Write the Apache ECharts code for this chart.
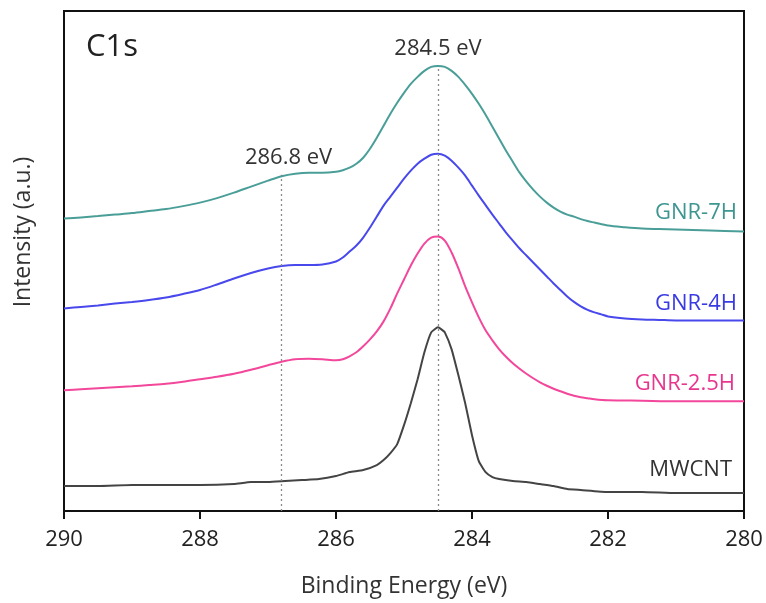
<!DOCTYPE html>
<html>
<head>
<meta charset="utf-8">
<script src="https://cdn.jsdelivr.net/npm/echarts@6/dist/echarts.min.js"></script>
<style>
html,body{margin:0;padding:0;background:#fff;}
#chart{width:766px;height:603px;}
</style>
</head>
<body>
<div id="chart"></div>
<script>
// Binding energies (eV) and intensities (a.u., offset-stacked as in the figure)
const e7H = [290,289.75,289.5,289.25,289,288.75,288.5,288.25,288,287.75,287.5,287.25,287,286.8,286.6,286.4,286.2,286.0,285.9,285.8,285.7,285.6,285.5,285.4,285.3,285.2,285.1,285.0,284.9,284.8,284.7,284.6,284.5,284.4,284.3,284.2,284.1,284.0,283.9,283.8,283.7,283.6,283.5,283.4,283.3,283.2,283.1,283.0,282.9,282.8,282.7,282.6,282.5,282.4,282.3,282.2,282.0,281.75,281.5,281.25,281.0,280.5,280];
const i7H = [293,294.2,295.5,297,298.5,300.5,302.5,305.5,309,313.5,319,325,331,335.5,338,339,339,340,341.5,344,348,354,363,374,386,398,409,419,428,435,441,445,446,445,441,435,427,418,408,397,385,373,361,350,339,330,322,315,309,304,300,297,295,292.5,290.5,289,286,284.3,283,282.5,282,281,280];

const e4H = [290,289.75,289.5,289.25,289,288.75,288.5,288.25,288,287.75,287.5,287.25,287,286.8,286.6,286.4,286.2,286.0,285.9,285.8,285.7,285.6,285.5,285.4,285.3,285.2,285.1,285.0,284.9,284.8,284.7,284.6,284.5,284.4,284.3,284.2,284.1,284.0,283.9,283.8,283.7,283.6,283.5,283.4,283.3,283.2,283.1,283.0,282.9,282.8,282.7,282.6,282.5,282.4,282.3,282.2,282.1,282.0,281.75,281.5,281.25,281,280.5,280];
const i4H = [203,204.5,206,207.8,209.5,211.5,214,217.5,221.5,227,233,238.5,243,245.5,246.5,246.5,247,250,254,260,266,274,284,295,306,315,324,333,341,348,353,357,358,356,351,344,336,326,316,306.5,297,288,279,271,263,256,249,242,235,228,221.5,215,209.5,205,201.5,199,197,195,193,192,191.5,191,191,191];

const e25H = [290,289.75,289.5,289.25,289,288.75,288.5,288.25,288,287.75,287.5,287.25,287,286.8,286.6,286.4,286.2,286.0,285.9,285.8,285.7,285.6,285.5,285.4,285.3,285.2,285.1,285.0,284.9,284.8,284.7,284.6,284.5,284.4,284.3,284.2,284.1,284.0,283.9,283.8,283.7,283.6,283.5,283.4,283.3,283.2,283.1,283.0,282.9,282.8,282.7,282.6,282.5,282.4,282.3,282.2,282.0,281.5,281,280];
const i25H = [121,122,123,124,125,126.2,127.5,129.5,132,134.5,137.5,141.5,146,149.5,152,152.5,152,151,152,155,159,165,172,180,190,203,218,232,246,258,268,274,275,271,259,243,225,209,194,181,171,162,154.5,148,142.5,137.5,133,129,125.5,122.5,120,117.5,115.5,114,113,112,111,110.5,110,110];

const eCNT = [290,289.5,289,288.5,288,287.5,287.25,287,286.75,286.5,286.25,286.0,285.8,285.6,285.4,285.3,285.2,285.1,285.0,284.9,284.8,284.7,284.6,284.5,284.45,284.4,284.3,284.2,284.1,284.0,283.9,283.8,283.7,283.6,283.4,283.2,283.0,282.8,282.6,282.4,282.0,281.5,281,280.5,280];
const iCNT = [25,25,26,26,26,27,29,29,30,31,32,35,39,41,46,51,58,67,86,108,132,159,179,184,182,179,162,136,108,76,50,39,34,32,30,29,27,25,22,21,19,19,18,18,18];

const xTicks = [290,288,286,284,282,280];
const peakMarks = [286.8, 284.5];
const peakTops = [337, 446];
const peakLabels = ['286.8 eV', '284.5 eV'];

const seriesNames = ['GNR-7H','GNR-4H','GNR-2.5H','MWCNT'];
const lineColors = ['#4a9e98','#4848ec','#f2479b','#444444'];
const textColors = ['#3d9690','#3a3ae4','#e8368f','#333333'];

const FONT = "'Open Sans', 'Noto Sans', sans-serif";

function zip(a,b){return a.map((v,i)=>[v,b[i]]);}
const allData = [zip(e7H,i7H), zip(e4H,i4H), zip(e25H,i25H), zip(eCNT,iCNT)];

const series = allData.map((d,k)=>({
  name: seriesNames[k],
  type: 'line',
  data: d,
  smooth: k===3 ? 0.15 : 0.3,
  symbol: 'none',
  lineStyle: {color: lineColors[k], width: 2},
  z: 3
}));

series[0].markLine = {
  silent: true,
  symbol: ['none','none'],
  lineStyle: {color: '#8a8a8a', type: [2,3], width: 1.3},
  label: {show: true, position: 'end', distance: 6, fontSize: 22, fontFamily: FONT, color: '#333'},
  data: peakMarks.map((e,i)=>[
    {coord: [e, 0]},
    {coord: [e, peakTops[i]], label: {formatter: peakLabels[i], offset: [i===0 ? 7 : 0, 0]}}
  ])
};

const chart = echarts.init(document.getElementById('chart'), null, {renderer: 'canvas'});
chart.setOption({
  animation: false,
  backgroundColor: '#fff',
  grid: {left: 64, right: 22, top: 11, bottom: 91, show: true, borderColor: '#111', borderWidth: 2, backgroundColor: 'transparent'},
  xAxis: {
    type: 'value', min: 280, max: 290, interval: 2, inverse: true,
    name: 'Binding Energy (eV)', nameLocation: 'middle', nameGap: 64,
    nameTextStyle: {fontSize: 23, fontFamily: FONT, color: '#333'},
    axisLine: {show: true, onZero: false, lineStyle: {color: '#111', width: 2}},
    axisTick: {show: true, inside: false, length: 8, lineStyle: {color: '#111', width: 2}},
    axisLabel: {fontSize: 22, fontFamily: FONT, color: '#222', margin: 18,
      customValues: xTicks},
    splitLine: {show: false}
  },
  yAxis: {
    type: 'value', min: 0, max: 501,
    axisLine: {show: false}, axisTick: {show: false}, axisLabel: {show: false}, splitLine: {show: false}
  },
  graphic: [
    {type: 'text', left: 86, top: 32, style: {text: 'C1s', fontSize: 31, fontFamily: FONT, fill: '#222'}},
    {type: 'text', x: 23, y: 232, rotation: Math.PI/2, style: {text: 'Intensity (a.u.)', fontSize: 23, fontFamily: FONT, fill: '#333', align: 'center', verticalAlign: 'middle'}},
    {type: 'text', x: 737, y: 213, style: {text: seriesNames[0], fontSize: 22, fontFamily: FONT, fill: textColors[0], align: 'right', verticalAlign: 'middle'}},
    {type: 'text', x: 737, y: 304, style: {text: seriesNames[1], fontSize: 22, fontFamily: FONT, fill: textColors[1], align: 'right', verticalAlign: 'middle'}},
    {type: 'text', x: 735, y: 384, style: {text: seriesNames[2], fontSize: 22, fontFamily: FONT, fill: textColors[2], align: 'right', verticalAlign: 'middle'}},
    {type: 'text', x: 732, y: 470, style: {text: seriesNames[3], fontSize: 22, fontFamily: FONT, fill: textColors[3], align: 'right', verticalAlign: 'middle'}}
  ],
  series: series
});
</script>
</body>
</html>
